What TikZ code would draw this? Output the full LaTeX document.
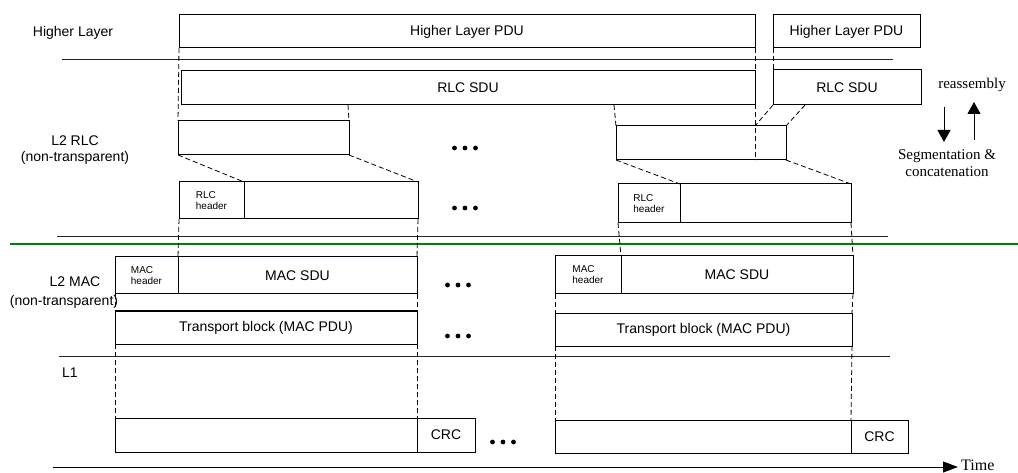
\documentclass[tikz,border=0pt]{standalone}
\usepackage{fontspec}
\setmainfont{Liberation Sans}
\newfontfamily\seriffont{Liberation Serif}
\usetikzlibrary{arrows.meta}
\begin{document}
\begin{tikzpicture}[x=1pt,y=-1pt,
  box/.style={draw, line width=1pt, inner sep=0pt, outer sep=0pt, anchor=north west,
    font=\fontsize{14}{16}\selectfont},
  hdr/.style={box, align=left, font=\fontsize{10}{11}\selectfont},
  lbl/.style={font=\fontsize{14}{16}\selectfont, inner sep=0pt, align=center},
  serlbl/.style={font=\seriffont\fontsize{15}{17}\selectfont, inner sep=0pt, align=center},
  dsh/.style={draw, line width=0.8pt, dash pattern=on 5pt off 3pt},
  layer/.style={draw, line width=1pt, black!85},
  tdots/.pic={\foreach \dx in {-10.5,0,10.5} \fill (\dx,0) circle (2.4);}
]
\useasboundingbox (0,0) rectangle (1018,473);

% layer lines
\draw[layer] (62,60) -- (893,60);
\draw[layer] (57,237) -- (888,237);
\draw[draw={rgb,255:red,0;green,128;blue,0}, line width=2pt] (10,244) -- (1018,244);
\draw[layer] (59,356) -- (890,356);

% layer labels
\node[lbl] (lhl) at (73,33) {Higher Layer};
\node[lbl] (lrlc) at (75,150) {L2 RLC\\(non-transparent)};
\node[lbl] (lmac1) at (75,282) {L2 MAC};
\node[lbl] (lmac2) at (64,302) {(non-transparent)};
\node[lbl] (ll1) at (70,373) {L1};

% Higher layer PDUs
\node[box, minimum width=576, minimum height=33] (hl1) at (179,15) {Higher Layer PDU};
\node[box, minimum width=147, minimum height=33] (hl2) at (773,15) {Higher Layer PDU};

% RLC SDUs
\node[box, minimum width=574, minimum height=34] (sdu1) at (181,71) {RLC SDU};
\node[box, minimum width=148, minimum height=35] (sdu2) at (773,70) {RLC SDU};

% RLC segments
\node[box, minimum width=171, minimum height=34] (seg1) at (178,121) {};
\node[box, minimum width=170, minimum height=34] (seg2) at (616,126) {};

% RLC PDUs
\node[hdr, minimum width=65, minimum height=37] (rh1) at (179,182) {RLC\\header};
\node[box, minimum width=174, minimum height=37] (rb1) at (244,182) {};
\node[hdr, minimum width=62, minimum height=39] (rh2) at (618,184) {RLC\\header};
\node[box, minimum width=171, minimum height=39] (rb2) at (680,184) {};

% MAC PDUs
\node[hdr, minimum width=63, minimum height=37] (mh1) at (115,257) {MAC\\header};
\node[box, minimum width=239, minimum height=37] (ms1) at (178,257) {MAC SDU\\[6pt]};
\node[hdr, minimum width=66, minimum height=38] (mh2) at (555,256) {MAC\\header};
\node[box, minimum width=232, minimum height=38] (ms2) at (621,256) {MAC SDU\\[6pt]};

% Transport blocks
\node[box, minimum width=302, minimum height=33] (tb1) at (115,311) {Transport block (MAC PDU)};
\node[box, minimum width=297, minimum height=33] (tb2) at (555,313) {Transport block (MAC PDU)};

% L1 blocks
\node[box, minimum width=302, minimum height=34] (lb1) at (115,418) {};
\node[box, minimum width=58, minimum height=34] (crc1) at (417,418) {CRC};
\node[box, minimum width=296, minimum height=33] (lb2) at (555,420) {};
\node[box, minimum width=57, minimum height=33] (crc2) at (851,420) {CRC};

% helper coordinates
\coordinate (s1a) at (348,105);
\coordinate (s1b) at (614,105);
\coordinate (s2b) at (805,105);
\coordinate (g2top) at (hl1.south east |- seg2.north);
\coordinate (g2bot) at (hl1.south east |- seg2.south);

% dashed mapping lines
\draw[dsh] (hl1.south west) -- (seg1.north west);
\draw[dsh] (s1a) -- (seg1.north east);
\draw[dsh] (seg1.south west) -- (rh1.north east);
\draw[dsh] (seg1.south east) -- (rb1.north east);
\draw[dsh] (rh1.south west) -- (ms1.north west);
\draw[dsh] (rb1.south east) -- (ms1.north east);
\draw[dsh] (mh1.south west) -- (tb1.north west);
\draw[dsh] (ms1.south east) -- (tb1.north east);
\draw[dsh] (tb1.south west) -- (lb1.north west);
\draw[dsh] (tb1.south east) -- (lb1.north east);

\draw[dsh] (hl1.south east) -- (g2bot);
\draw[dsh] (hl2.south west) -- (sdu2.north west);
\draw[dsh] (s1b) -- (seg2.north west);
\draw[dsh] (sdu2.south west) -- (g2top);
\draw[dsh] (s2b) -- (seg2.north east);
\draw[dsh] (seg2.south west) -- (rh2.north east);
\draw[dsh] (seg2.south east) -- (rb2.north east);
\draw[dsh] (rh2.south west) -- (mh2.north east);
\draw[dsh] (rb2.south east) -- (ms2.north east);
\draw[dsh] (mh2.south west) -- (tb2.north west);
\draw[dsh] (ms2.south east) -- (tb2.north east);
\draw[dsh] (tb2.south west) -- (lb2.north west);
\draw[dsh] (tb2.south east) -- (lb2.north east);

% dots
\pic at (465,148) {tdots};
\pic at (465,208) {tdots};
\pic at (458,285) {tdots};
\pic at (458,336) {tdots};
\pic at (503,442) {tdots};

% segmentation / reassembly
\node[serlbl] (reas) at (972,85) {reassembly};
\node[serlbl] (segc) at (947,163) {Segmentation \&\\concatenation};
\coordinate (da) at (944,107);
\coordinate (db) at (944,142);
\coordinate (ua) at (974,140);
\coordinate (ub) at (974,102);
\draw[line width=1pt, -{Triangle[length=12pt,width=13pt]}] (da) -- (db);
\draw[line width=1pt, -{Triangle[length=12pt,width=13pt]}] (ua) -- (ub);

% time axis
\coordinate (t0) at (53,467);
\coordinate (t1) at (958,467);
\draw[line width=1pt, -{Triangle[length=15pt,width=11pt]}] (t0) -- (t1);
\node[font=\seriffont\fontsize{16}{18}\selectfont, anchor=base west, inner sep=0pt] (time) at (961,470) {Time};
\end{tikzpicture}
\end{document}
